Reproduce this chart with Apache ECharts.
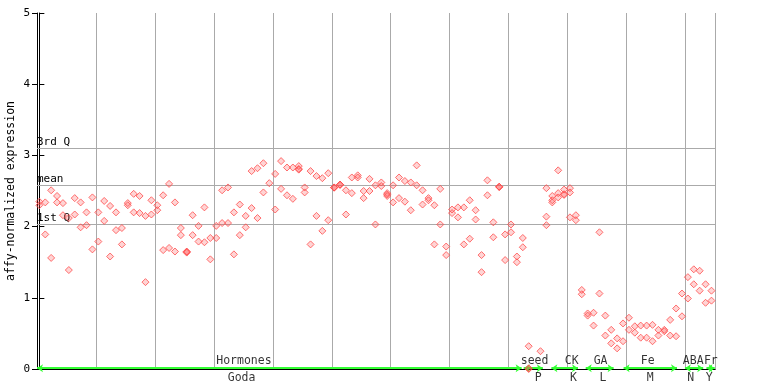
<!DOCTYPE html>
<html><head><meta charset="utf-8">
<script src="https://cdn.jsdelivr.net/npm/echarts@6/dist/echarts.min.js"></script>
<style>html,body{margin:0;padding:0;background:#fff}#c{width:768px;height:384px}</style>
</head><body><div id="c"></div>
<script>
// replicate values per sample slot (index = slot number 0..114)
const repA = [2.35,2.34,2.51,2.43,2.33,2.12,2.40,2.34,2.20,2.41,
2.20,2.36,2.29,2.20,1.98,2.33,2.46,2.43,2.15,2.37,
2.30,2.44,2.60,2.34,1.98,1.65,2.16,2.01,2.27,1.84,
2.01,2.51,2.55,2.20,2.31,2.15,2.78,2.82,2.89,2.61,
2.74,2.92,2.83,2.83,2.85,2.55,2.78,2.71,2.68,2.75,
2.55,2.59,2.51,2.69,2.72,2.50,2.67,2.58,2.62,2.47,
2.58,2.69,2.64,2.62,2.86,2.51,2.40,2.30,2.53,1.72,
2.24,2.27,2.27,2.37,2.23,1.60,2.65,2.06,2.56,1.89,
2.03,1.58,1.84,0.32,null,0.25,2.54,2.43,2.79,2.52,
2.54,2.16,1.11,0.78,0.79,1.92,0.75,0.55,0.43,0.64,
0.72,0.60,0.61,0.61,0.62,0.55,0.55,0.69,0.85,1.06,
1.29,1.40,1.38,1.19,1.10];
const repB = [2.30,1.89,1.56,2.34,2.16,1.39,2.17,1.99,2.02,1.68,
1.79,2.08,1.58,1.95,1.75,2.30,2.20,2.19,1.22,2.17,
2.23,1.67,1.70,1.65,1.88,1.635,1.88,1.79,1.78,1.54,
1.84,2.05,2.05,1.61,1.88,1.99,2.26,2.12,2.48,null,
2.24,2.53,2.44,2.39,2.81,2.48,1.75,2.15,1.94,2.09,
2.545,2.585,2.17,2.47,2.69,2.40,2.50,2.03,2.57,2.43,
2.34,2.40,2.35,2.23,2.58,2.31,2.37,1.75,2.03,1.60,
2.19,2.13,1.75,1.83,2.10,1.36,2.44,1.85,2.555,1.53,
1.92,1.50,1.71,0.00,null,null,2.14,2.37,2.47,2.455,
2.48,2.09,1.05,0.75,0.61,1.06,0.47,0.36,0.29,0.39,
0.55,0.51,0.44,0.44,0.39,0.47,0.53,0.47,0.46,0.74,
0.99,1.19,1.10,0.93,0.96];
// third replicates (CK) and overlapping duplicates
const repC = {25:1.645, 44:2.80, 50:2.55, 51:2.59, 59:2.45, 78:2.56, 83:0.01,
  86:2.02, 87:2.34, 88:2.41, 89:2.445, 90:2.13};

const qValues = [3.10, 2.58, 2.03];
const qNames = ['3rd Q', 'mean', '1st Q'];

const groupNames = ['Hormones','seed','CK','GA','Fe','ABA','Fr'];
const groupStart = [-0.4, 82.15, 86.85, 92.67, 99.1, 109.5, 113.15];
const groupEnd   = [81.8, 85.4, 91.36, 97.4, 108.15, 112.6, 114.55];
const groupLabelX = [34.7, 84.0, 90.3, 95.2, 103.2, 110.9, 113.9];
const subNames = ['Goda','P','K','L','M','N','Y'];
const subLabelX = [34.3, 84.6, 90.6, 95.6, 103.6, 110.5, 113.6];

const yTicks = [0,1,2,3,4,5];

const pts = [];
[repA, repB].forEach(r => r.forEach((v, i) => { if (v !== null) pts.push([i, v]); }));
Object.keys(repC).forEach(k => pts.push([Number(k), repC[k]]));

const MONO = 'DejaVu Sans Mono';
const chart = echarts.init(document.getElementById('c'), null, {renderer:'canvas'});
chart.setOption({
  animation: false,
  grid: {left: 37, top: 13, width: 678, height: 356, containLabel:false, outerBoundsMode:'none'},
  xAxis: [
    {type:'value', min:-0.4, max:114.6, position:'bottom',
     axisLine:{show:true, onZero:false, lineStyle:{color:'#000', width:1}},
     axisTick:{show:false}, axisLabel:{show:false}, splitLine:{show:false}},
    {type:'value', min:0, max:11.5, interval:1, position:'top',
     axisLine:{show:true, lineStyle:{color:'#000', width:1}},
     axisTick:{show:false}, axisLabel:{show:false},
     splitLine:{show:true, lineStyle:{color:'#aaaaaa', width:1}}}
  ],
  yAxis: [
    {type:'value', min:0, max:5, interval:1, position:'left',
     name:'affy-normalized expression', nameLocation:'middle', nameGap:20, nameMoveOverlap:false,
     nameTextStyle:{fontFamily:MONO, fontSize:11.5, color:'#000'},
     axisLine:{show:true, lineStyle:{color:'#000', width:1}},
     axisTick:{show:true, inside:true, length:5, lineStyle:{color:'#000'}},
     axisLabel:{show:true, fontFamily:MONO, fontSize:11, color:'#000', margin:7,
       formatter: v => yTicks.indexOf(v) >= 0 ? String(v) : ''},
     splitLine:{show:false}},
    {type:'value', min:0, max:5, interval:1, position:'right',
     axisLine:{show:true, lineStyle:{color:'#000', width:1}},
     axisTick:{show:true, inside:true, length:5, lineStyle:{color:'#000'}},
     axisLabel:{show:false}, splitLine:{show:false}}
  ],
  series: [
    {type:'scatter', xAxisIndex:0, yAxisIndex:0, data: pts, symbol:'diamond', symbolSize:7,
     itemStyle:{color:'rgba(255,80,80,0.3)', borderColor:'#ff4d4d', borderWidth:1},
     z:5,
     markLine:{silent:true, symbol:'none', animation:false,
       lineStyle:{color:'#aaaaaa', width:1, type:'solid'},
       label:{show:true, position:'insideStartTop', formatter:'{b}', fontFamily:MONO,
              fontSize:11, color:'#000', distance:[0,1]},
       data: qValues.map((v, i) => ({yAxis: v, name: qNames[i]}))}
    },
    {type:'scatter', xAxisIndex:0, yAxisIndex:0, data:[], z:6,
     markLine:{silent:true, animation:false, symbol:['arrow','arrow'], symbolSize:[6,6],
       lineStyle:{color:'#33ff33', width:2, type:'solid'}, label:{show:false},
       data: groupStart.map((s, i) => [{coord:[s, 0.012]}, {coord:[groupEnd[i], 0.012]}])}
    },
    {type:'scatter', xAxisIndex:0, yAxisIndex:0, symbolSize:0, z:7,
     data: groupNames.map((n, i) => ({name:n, value:[groupLabelX[i], 0]})),
     label:{show:true, position:'top', distance:2, formatter:'{b}', fontFamily:MONO, fontSize:11.5, color:'#000'}},
    {type:'scatter', xAxisIndex:0, yAxisIndex:0, symbolSize:0, z:7,
     data: subNames.map((n, i) => ({name:n, value:[subLabelX[i], 0]})),
     label:{show:true, position:'bottom', distance:3, formatter:'{b}', fontFamily:MONO, fontSize:11.5, color:'#000'}}
  ]
});
</script></body></html>
